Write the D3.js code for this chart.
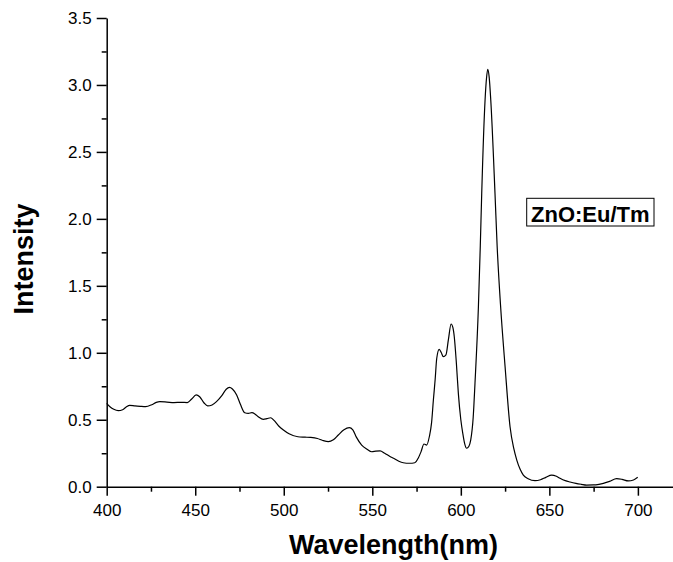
<!DOCTYPE html>
<html>
<head>
<meta charset="utf-8">
<script src="https://cdn.jsdelivr.net/npm/d3@7"></script>
<style>
  body { margin: 0; background: #fff; }
  svg { display: block; font-family: "Liberation Sans", Arial, sans-serif; }
</style>
</head>
<body>
<svg id="chart" width="673" height="562"></svg>
<script>
// spectrum (wavelength in nm, intensity)
const wavelength = [
  400, 402, 404, 406.5, 409, 411, 413, 416, 419, 422, 425.4, 428, 430, 434, 438, 442,
  445.5, 448, 450.5, 452.5, 455, 457, 459.5, 462, 465, 467.5, 469.3, 471, 473.4, 475.5,
  478, 480, 482, 484, 486, 488.4, 490.5, 492.6, 494.5, 497, 499.8, 503, 508, 512, 515,
  519, 522, 525.2, 528, 530.8, 534, 537, 539, 541, 544, 547, 549.7, 552, 554.4, 557,
  560, 562, 565, 567.5, 571, 574, 576, 577.5, 579.2, 580.7, 582.2, 583.5, 584.5, 585.5,
  586.4, 587.8, 589, 590.1, 591.6, 593, 594.5, 595.5, 596.3, 597.5, 598.6, 600, 601.1,
  602.2, 603.3, 604.5, 605.6, 607, 608, 609.9, 611, 611.8, 613.7, 614.5, 615.2, 616,
  616.9, 619.3, 620.5, 622.4, 625, 627.8, 630, 631.6, 633.5, 635.3, 638, 641.9, 645,
  648, 651.3, 654, 656, 659, 661.7, 665, 668, 671, 674.8, 678, 680.5, 684, 688, 691,
  694.6, 697.5, 699.9
];
const intensity = [
  0.623, 0.595, 0.578, 0.568, 0.575, 0.595, 0.608, 0.603, 0.600, 0.598, 0.612, 0.630, 0.635, 0.632, 0.628, 0.630,
  0.628, 0.655, 0.685, 0.672, 0.625, 0.603, 0.610, 0.635, 0.680, 0.728, 0.742, 0.730, 0.685, 0.615,
  0.552, 0.548, 0.553, 0.540, 0.518, 0.503, 0.508, 0.515, 0.495, 0.455, 0.423, 0.395, 0.373, 0.370, 0.368,
  0.360, 0.345, 0.336, 0.350, 0.386, 0.425, 0.441, 0.425, 0.370, 0.311, 0.280, 0.261, 0.265, 0.267, 0.250,
  0.225, 0.212, 0.190, 0.179, 0.175, 0.179, 0.215, 0.260, 0.319, 0.311, 0.373, 0.480, 0.647, 0.800,
  0.959, 1.026, 1.000, 0.971, 0.984, 1.100, 1.215, 1.190, 1.120, 0.920, 0.697, 0.500, 0.399,
  0.320, 0.287, 0.300, 0.349, 0.520, 0.772, 1.332, 1.800, 2.190, 2.890, 3.050, 3.117, 3.060,
  2.890, 2.190, 1.800, 1.360, 0.896, 0.448, 0.280, 0.199, 0.130, 0.087, 0.060, 0.045, 0.052,
  0.070, 0.087, 0.078, 0.063, 0.045, 0.035, 0.025, 0.018, 0.012, 0.013, 0.018, 0.025, 0.040, 0.060, 0.055,
  0.043, 0.050, 0.070
];
const xTicks = [400, 450, 500, 550, 600, 650, 700];
const xMinor = [425, 475, 525, 575, 625, 675];
const yTicks = [0, 0.5, 1.0, 1.5, 2.0, 2.5, 3.0, 3.5];
const yMinor = [0.25, 0.75, 1.25, 1.75, 2.25, 2.75, 3.25];
const legendLabel = 'ZnO:Eu/Tm';

const svg = d3.select('#chart');
const plotLeft = 106.7, plotRight = 673.3, plotTop = 18, plotBottom = 486.7;

const x = d3.scaleLinear().domain([400, 720]).range([plotLeft, plotRight]);
const y = d3.scaleLinear().domain([0, 3.5]).range([plotBottom, plotTop]);

// minor ticks first, then the main axes on top
svg.append('g')
  .attr('transform', `translate(0,${plotBottom})`)
  .call(d3.axisBottom(x).tickValues(xMinor).tickSize(5).tickFormat('').tickSizeOuter(0))
  .call(g => g.select('.domain').remove())
  .call(g => g.selectAll('line').attr('stroke-width', 1.5));

svg.append('g')
  .attr('transform', `translate(${plotLeft},0)`)
  .call(d3.axisLeft(y).tickValues(yMinor).tickSize(5).tickFormat('').tickSizeOuter(0))
  .call(g => g.select('.domain').remove())
  .call(g => g.selectAll('line').attr('stroke-width', 1.5));

const xAxis = svg.append('g')
  .attr('transform', `translate(0,${plotBottom})`)
  .call(d3.axisBottom(x).tickValues(xTicks).tickSize(9).tickPadding(8).tickSizeOuter(0));

const yAxis = svg.append('g')
  .attr('transform', `translate(${plotLeft},0)`)
  .call(d3.axisLeft(y).tickValues(yTicks).tickSize(10).tickPadding(5).tickSizeOuter(0)
    .tickFormat(d3.format('.1f')));

[xAxis, yAxis].forEach(a => {
  a.select('.domain').attr('stroke-width', 1.5);
  a.selectAll('line').attr('stroke-width', 1.5);
  a.selectAll('text')
    .attr('fill', '#000')
    .style('font-size', '17px')
    .style('font-family', '"Liberation Sans", Arial, sans-serif');
});

// spectrum line
const line = d3.line()
  .x((d, i) => x(wavelength[i]))
  .y(d => y(d))
  .curve(d3.curveMonotoneX);

svg.append('path')
  .datum(intensity)
  .attr('fill', 'none')
  .attr('stroke', '#000')
  .attr('stroke-width', 1.2)
  .attr('d', line);

// axis titles
svg.append('text')
  .attr('x', 393.5)
  .attr('y', 554)
  .attr('text-anchor', 'middle')
  .style('font-size', '27px')
  .style('font-weight', 'bold')
  .text('Wavelength(nm)');

svg.append('text')
  .attr('transform', 'translate(33,259) rotate(-90)')
  .attr('text-anchor', 'middle')
  .style('font-size', '27px')
  .style('font-weight', 'bold')
  .text('Intensity');

// legend box
svg.append('rect')
  .attr('x', 526.7)
  .attr('y', 198.3)
  .attr('width', 127.3)
  .attr('height', 27.7)
  .attr('fill', '#fff')
  .attr('stroke', '#000')
  .attr('stroke-width', 1);

svg.append('text')
  .attr('x', 590.3)
  .attr('y', 221.5)
  .attr('text-anchor', 'middle')
  .style('font-size', '22px')
  .style('font-weight', 'bold')
  .text(legendLabel);
</script>
</body>
</html>
